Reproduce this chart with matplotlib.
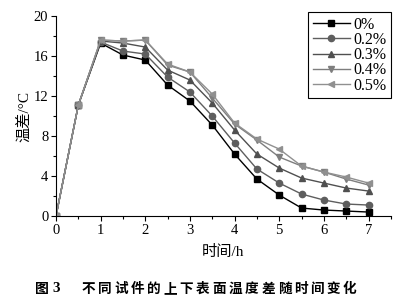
import numpy as np
import matplotlib
matplotlib.use("Agg")
import matplotlib.pyplot as plt

plt.rcParams['font.family'] = ['Liberation Serif', 'Noto Sans CJK SC']
plt.rcParams['mathtext.fontset'] = 'stix'

# time (h)
hours = [0, 0.5, 1, 1.5, 2, 2.5, 3, 3.5, 4, 4.5, 5, 5.5, 6, 6.5, 7]

# temperature difference (degC) for each dosage
t_0 = [0, 11.1, 17.3, 16.1, 15.6, 13.1, 11.5, 9.1, 6.2, 3.7, 2.1, 0.8, 0.6, 0.5, 0.4]
t_02 = [0, 11.1, 17.4, 16.5, 16.2, 13.9, 12.4, 10.0, 7.3, 4.7, 3.3, 2.2, 1.6, 1.2, 1.1]
t_03 = [0, 11.1, 17.5, 17.3, 16.9, 14.6, 13.6, 11.3, 8.6, 6.2, 4.8, 3.8, 3.3, 2.8, 2.5]
t_04 = [0, 11.1, 17.6, 17.5, 17.6, 15.1, 14.4, 11.8, 9.2, 7.6, 5.9, 5.0, 4.4, 3.7, 3.1]
t_05 = [0, 11.1, 17.6, 17.5, 17.6, 15.2, 14.4, 12.2, 9.3, 7.7, 6.7, 5.0, 4.4, 3.9, 3.3]

labels = ['0%', '0.2%', '0.3%', '0.4%', '0.5%']
series = [t_0, t_02, t_03, t_04, t_05]
markers = ['s', 'o', '^', 'v', '<']
colors = ['#000000', '#5e5e5e', '#505050', '#7e7e7e', '#909090']

fig = plt.figure(figsize=(3.93, 3.03), dpi=100)
ax = fig.add_axes([0.1425, 0.287, 0.852, 0.66])

for y, lab, m, c in zip(series, labels, markers, colors):
    ax.plot(hours, y, marker=m, color=c, markersize=4.5, linewidth=1.0, label=lab)

ax.set_xlim(0, 7.5)
ax.set_ylim(0, 20)
ax.set_xticks(range(0, 8))
ax.set_xticks(np.arange(0.5, 7.6, 1), minor=True)
ax.set_yticks(range(0, 21, 4))
ax.set_yticks(range(2, 20, 4), minor=True)
ax.tick_params(which='major', length=3.5, width=0.8, labelsize=10.5, pad=2)
ax.tick_params(which='minor', length=2, width=0.8)
ax.spines['top'].set_visible(False)
ax.spines['right'].set_visible(False)

ax.set_ylabel('温差/°C', fontsize=11, labelpad=2)
ax.set_xlabel('时间/h', fontsize=11, labelpad=6)

leg = ax.legend(loc='upper right', bbox_to_anchor=(1.0, 1.02), fontsize=11.5,
                labelspacing=-0.05, handlelength=2.3, handletextpad=0.2,
                borderpad=0.3, borderaxespad=0.0, fancybox=False, framealpha=1)
leg.get_frame().set_edgecolor('black')
leg.get_frame().set_linewidth(0.8)

# caption, spread out like the original
caption = '不同试件的上下表面温度差随时间变化'
fig.text(35 / 393, 1 - 289 / 303, '图', fontsize=10, fontweight='bold',
         family=['Noto Sans CJK SC'], va='center')
fig.text(52 / 393, 1 - 289 / 303, '3', fontsize=11, fontweight='bold',
         family=['Liberation Serif'], va='center')
x0 = 82
for i, ch in enumerate(caption):
    fig.text((x0 + i * 16.3) / 393, 1 - 289 / 303, ch, fontsize=9.8,
             fontweight='bold', family=['Noto Sans CJK SC'], va='center')

fig.savefig('out.png', dpi=100)
